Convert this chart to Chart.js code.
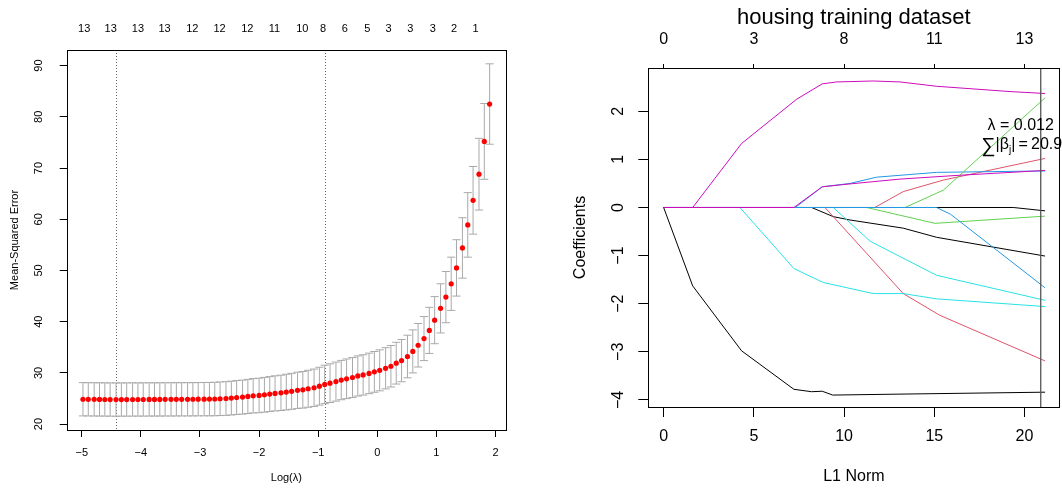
<!DOCTYPE html>
<html>
<head>
<meta charset="utf-8">
<script src="https://cdn.jsdelivr.net/npm/chart.js@4.4.1/dist/chart.umd.min.js"></script>
<style>
  html, body { margin: 0; padding: 0; background: #fff; }
  #wrap { position: relative; width: 1062px; height: 489px; }
  canvas { position: absolute; top: 0; }
</style>
</head>
<body>
<div id="wrap">
  <canvas id="cvPlot" width="531" height="489" style="left:0"></canvas>
  <canvas id="pathPlot" width="531" height="489" style="left:531px"></canvas>
</div>
<script>
// ---- left panel: cross-validation curve ----
var logLambda = [-4.98, -4.89, -4.79, -4.70, -4.61, -4.52, -4.42, -4.33, -4.24, -4.14,
  -4.05, -3.96, -3.86, -3.77, -3.68, -3.59, -3.49, -3.40, -3.31, -3.21,
  -3.12, -3.03, -2.93, -2.84, -2.75, -2.66, -2.56, -2.47, -2.38, -2.28,
  -2.19, -2.10, -2.00, -1.91, -1.82, -1.73, -1.63, -1.54, -1.45, -1.35,
  -1.26, -1.17, -1.07, -0.98, -0.89, -0.80, -0.70, -0.61, -0.52, -0.42,
  -0.33, -0.24, -0.14, -0.05, 0.04, 0.14, 0.23, 0.32, 0.41, 0.51,
  0.60, 0.69, 0.79, 0.88, 0.97, 1.07, 1.16, 1.25, 1.34, 1.44,
  1.53, 1.62, 1.72, 1.81, 1.90];
var cvMean = [24.85, 24.84, 24.83, 24.82, 24.81, 24.80, 24.79, 24.80, 24.80, 24.81,
  24.81, 24.81, 24.82, 24.82, 24.82, 24.83, 24.83, 24.84, 24.84, 24.84,
  24.85, 24.86, 24.87, 24.88, 24.90, 24.95, 25.00, 25.08, 25.20, 25.27,
  25.40, 25.53, 25.60, 25.73, 25.86, 26.00, 26.10, 26.25, 26.40, 26.60,
  26.70, 26.90, 27.10, 27.40, 27.75, 28.00, 28.30, 28.60, 28.85, 29.10,
  29.40, 29.60, 29.90, 30.20, 30.50, 30.90, 31.30, 31.90, 32.40, 33.20,
  34.20, 35.40, 36.70, 38.30, 40.30, 42.60, 44.80, 47.40, 50.50, 54.40,
  58.90, 63.70, 68.80, 75.20, 82.50];
var cvSe = [3.25, 3.25, 3.25, 3.25, 3.25, 3.25, 3.25, 3.25, 3.25, 3.25,
  3.25, 3.25, 3.25, 3.25, 3.25, 3.25, 3.25, 3.25, 3.25, 3.25,
  3.25, 3.25, 3.25, 3.26, 3.27, 3.28, 3.29, 3.30, 3.31, 3.32,
  3.33, 3.35, 3.37, 3.39, 3.41, 3.43, 3.45, 3.48, 3.51, 3.54,
  3.57, 3.61, 3.65, 3.70, 3.75, 3.78, 3.81, 3.84, 3.87, 3.90,
  3.92, 3.94, 3.96, 3.98, 4.00, 4.02, 4.05, 4.08, 4.12, 4.16,
  4.20, 4.25, 4.30, 4.50, 4.60, 4.80, 5.00, 5.20, 5.50, 5.90,
  6.30, 6.60, 7.00, 7.40, 7.85];
var nzPos = [-4.96, -4.51, -4.05, -3.60, -3.13, -2.67, -2.20, -1.74, -1.27, -0.92,
  -0.55, -0.17, 0.19, 0.56, 0.94, 1.30, 1.66];
var nzLabels = ['13', '13', '13', '13', '12', '12', '12', '11', '10', '8',
  '6', '5', '3', '3', '3', '2', '1'];
var lambdaLines = [-4.42, -0.89];   // lambda.min, lambda.1se
var cvXTicks = [-5, -4, -3, -2, -1, 0, 1, 2];
var cvYTicks = [20, 30, 40, 50, 60, 70, 80, 90];

// ---- right panel: coefficient paths, [L1 norm, coefficient] ----
var crim = [[0, 0], [8.2, 0], [9.4, -0.19], [10.33, -0.26], [13.28, -0.43], [15.13, -0.62], [21.14, -1.01]];
var zn = [[0, 0], [11.7, 0], [13.28, 0.33], [15.5, 0.57], [21.14, 1.02]];
var indus = [[0, 0], [11.25, 0], [15.04, -0.33], [21.14, -0.18]];
var chas = [[0, 0], [7.3, 0], [8.79, 0.43], [10.33, 0.5], [11.8, 0.63], [15.13, 0.73], [21.14, 0.76]];
var nox = [[0, 0], [9.4, 0], [11.44, -0.7], [13.1, -1.02], [15.13, -1.41], [21.14, -1.93]];
var rm = [[0, 0], [1.61, 0], [4.32, 1.33], [7.37, 2.25], [8.79, 2.57], [9.59, 2.61], [11.62, 2.63], [13.1, 2.61], [15.13, 2.52], [19.2, 2.41], [21.14, 2.37]];
var age = [[0, 0], [19.38, 0], [21.14, -0.07]];
var dis = [[0, 0], [8.94, 0], [13.28, -1.79], [15.3, -2.24], [21.14, -3.19]];
var rad = [[0, 0], [13.38, 0], [15.5, 0.36], [21.14, 2.28]];
var tax = [[0, 0], [15.13, 0], [15.9, -0.14], [21.14, -1.67]];
var ptratio = [[0, 0], [4.23, 0], [7.22, -1.27], [8.85, -1.56], [11.62, -1.79], [13.28, -1.79], [15.13, -1.9], [21.14, -2.06]];
var blk = [[0, 0], [7.22, 0], [8.79, 0.43], [10.33, 0.49], [13.1, 0.59], [16.4, 0.67], [21.14, 0.77]];
var lstat = [[0, 0], [1.61, -1.63], [4.32, -2.98], [7.22, -3.78], [8.2, -3.83], [8.79, -3.82], [9.37, -3.9], [13.1, -3.88], [21.14, -3.84]];
var pathNames = ['crim', 'zn', 'indus', 'chas', 'nox', 'rm', 'age', 'dis', 'rad', 'tax', 'ptratio', 'black', 'lstat'];
var pathData = [crim, zn, indus, chas, nox, rm, age, dis, rad, tax, ptratio, blk, lstat];
var l1Ticks = [0, 5, 10, 15, 20];
var dfLabels = ['0', '3', '8', '11', '13'];
var coefTicks = [-4, -3, -2, -1, 0, 1, 2];
var sNorm = 20.9;
var lambdaText = '\u03bb = 0.012';
var normText = '20.9';

var palette = ['#000000', '#DF536B', '#61D04F', '#2297E6', '#28E2E5', '#CD0BBC'];
var FONT = "'Liberation Sans', Arial, Helvetica, sans-serif";
Chart.defaults.font.family = FONT;
Chart.defaults.color = '#000';

function minus(v) { return String(v).replace('-', '\u2212'); }

// box round the plot region plus rotated y labels (R style)
var rBox = {
  id: 'rBox',
  afterDraw: function (chart, args, opts) {
    var ctx = chart.ctx, a = chart.chartArea, y = chart.scales.y;
    ctx.save();
    ctx.strokeStyle = '#000';
    ctx.lineWidth = 1;
    ctx.strokeRect(Math.round(a.left) + 0.5, Math.round(a.top) + 0.5,
      Math.round(a.right - a.left), Math.round(a.bottom - a.top));
    ctx.fillStyle = '#000';
    ctx.font = opts.fontSize + 'px ' + FONT;
    ctx.textAlign = 'center';
    ctx.textBaseline = 'middle';
    y.ticks.forEach(function (t) {
      ctx.save();
      ctx.translate(a.left - opts.labelOffset, y.getPixelForValue(t.value));
      ctx.rotate(-Math.PI / 2);
      ctx.fillText(minus(t.value), 0, 0);
      ctx.restore();
    });
    ctx.restore();
  }
};

var cvExtras = {
  id: 'cvExtras',
  beforeDatasetsDraw: function (chart) {
    var ctx = chart.ctx, x = chart.scales.x, y = chart.scales.y, a = chart.chartArea;
    ctx.save();
    // dotted lines at the two chosen lambdas
    ctx.strokeStyle = '#666';
    ctx.lineWidth = 1;
    ctx.setLineDash([1, 2]);
    lambdaLines.forEach(function (v) {
      var px = Math.round(x.getPixelForValue(v)) + 0.5;
      ctx.beginPath();
      ctx.moveTo(px, a.top);
      ctx.lineTo(px, a.bottom);
      ctx.stroke();
    });
    ctx.setLineDash([]);
    // error bars
    ctx.strokeStyle = '#a9a9a9';
    logLambda.forEach(function (lx, i) {
      var px = x.getPixelForValue(lx);
      var cw = x.getPixelForValue(lx + 0.069) - px;
      var up = y.getPixelForValue(cvMean[i] + cvSe[i]);
      var lo = y.getPixelForValue(cvMean[i] - cvSe[i]);
      ctx.beginPath();
      ctx.moveTo(px, up); ctx.lineTo(px, lo);
      ctx.moveTo(px - cw, up); ctx.lineTo(px + cw, up);
      ctx.moveTo(px - cw, lo); ctx.lineTo(px + cw, lo);
      ctx.stroke();
    });
    ctx.restore();
  }
};

var pathExtras = {
  id: 'pathExtras',
  afterDatasetsDraw: function (chart) {
    var ctx = chart.ctx, x = chart.scales.x, a = chart.chartArea;
    var px = x.getPixelForValue(sNorm);
    ctx.save();
    ctx.strokeStyle = '#555';
    ctx.lineWidth = 1.3;
    ctx.beginPath();
    ctx.moveTo(px, a.top);
    ctx.lineTo(px, a.bottom);
    ctx.stroke();
    // annotation
    var cx = px - 20;
    ctx.fillStyle = '#000';
    ctx.textBaseline = 'middle';
    ctx.textAlign = 'center';
    ctx.font = '16px ' + FONT;
    ctx.fillText(lambdaText, cx, a.top + 58);
    var parts = [
      { t: '\u2211', f: '20px ' + FONT, dy: 1 },
      { t: '|\u03b2', f: '16px ' + FONT, dy: 0 },
      { t: 'j', f: '10px ' + FONT, dy: 5 },
      { t: '|\u2009=\u2009' + normText, f: '16px ' + FONT, dy: 0 }
    ];
    var total = 0;
    parts.forEach(function (p) { ctx.font = p.f; p.w = ctx.measureText(p.t).width; total += p.w; });
    var xx = cx - total / 2 + 1;
    ctx.textAlign = 'left';
    parts.forEach(function (p) {
      ctx.font = p.f;
      ctx.fillText(p.t, xx, a.top + 77 + p.dy);
      xx += p.w;
    });
    ctx.restore();
  }
};

// ---------- left chart ----------
new Chart(document.getElementById('cvPlot'), {
  type: 'scatter',
  data: {
    datasets: [{
      label: 'Mean-Squared Error',
      data: logLambda.map(function (v, i) { return { x: v, y: cvMean[i] }; }),
      backgroundColor: '#ff0000',
      borderWidth: 0,
      pointRadius: 2.6,
      pointHoverRadius: 2.6
    }]
  },
  options: {
    responsive: false,
    animation: false,
    events: [],
    layout: { padding: { left: 0, right: 25, top: 0, bottom: 0 } },
    plugins: {
      legend: { display: false },
      tooltip: { enabled: false },
      rBox: { fontSize: 11, labelOffset: 28 }
    },
    scales: {
      x: {
        type: 'linear', position: 'bottom', min: -5.255, max: 2.177,
        afterBuildTicks: function (s) { s.ticks = cvXTicks.map(function (v) { return { value: v }; }); },
        afterFit: function (s) { s.height = 59; },
        grid: { drawOnChartArea: false, drawTicks: true, tickLength: 7, color: '#000' },
        border: { display: false },
        ticks: { font: { size: 11 }, color: '#000', padding: 9.4, maxRotation: 0, autoSkip: false, callback: minus },
        title: { display: true, text: 'Log(\u03bb)', font: { size: 11 }, color: '#000', padding: { top: 0, bottom: 4.4 } }
      },
      xTop: {
        type: 'linear', position: 'top', min: -5.255, max: 2.177,
        afterBuildTicks: function (s) { s.ticks = nzPos.map(function (v) { return { value: v }; }); },
        afterFit: function (s) { s.height = 50; },
        grid: { display: false, drawTicks: false },
        border: { display: false },
        ticks: { font: { size: 11 }, color: '#000', padding: 14.8, maxRotation: 0, autoSkip: false,
          callback: function (v, i) { return nzLabels[i]; } }
      },
      y: {
        type: 'linear', min: 18.85, max: 93.05,
        afterBuildTicks: function (s) { s.ticks = cvYTicks.map(function (v) { return { value: v }; }); },
        afterFit: function (s) { s.width = 66.7; },
        grid: { drawOnChartArea: false, drawTicks: true, tickLength: 7, color: '#000' },
        border: { display: false },
        ticks: { display: false },
        title: { display: true, text: 'Mean-Squared Error', font: { size: 11 }, color: '#000', padding: { top: 8.4, bottom: 0 } }
      }
    }
  },
  plugins: [cvExtras, rBox]
});

// ---------- right chart ----------
// Chart.js puts the first dataset on top; R puts the last variable on top,
// so the datasets are handed over last variable first.
var pathDatasets = pathData.map(function (d, i) {
  return {
    label: pathNames[i],
    data: d,
    showLine: true,
    borderColor: palette[i % 6],
    borderWidth: 1,
    pointRadius: 0,
    tension: 0,
    fill: false
  };
}).reverse();

new Chart(document.getElementById('pathPlot'), {
  type: 'scatter',
  data: { datasets: pathDatasets },
  options: {
    responsive: false,
    animation: false,
    events: [],
    layout: { padding: { left: 0, right: 2.5, top: 0, bottom: 0 } },
    plugins: {
      legend: { display: false },
      tooltip: { enabled: false },
      title: { display: true, text: 'housing training dataset', fullSize: false, color: '#000',
        font: { size: 22, weight: 'normal' }, padding: { top: 5, bottom: 0 } },
      rBox: { fontSize: 16, labelOffset: 30 }
    },
    scales: {
      x: {
        type: 'linear', position: 'bottom', min: -0.85, max: 21.94,
        afterBuildTicks: function (s) { s.ticks = l1Ticks.map(function (v) { return { value: v }; }); },
        afterFit: function (s) { s.height = 82; },
        grid: { drawOnChartArea: false, drawTicks: true, tickLength: 10, color: '#000' },
        border: { display: false },
        ticks: { font: { size: 16 }, color: '#000', padding: 10.4, maxRotation: 0, autoSkip: false },
        title: { display: true, text: 'L1 Norm', font: { size: 16 }, color: '#000', padding: { top: 0, bottom: 2.7 } }
      },
      xTop: {
        type: 'linear', position: 'top', min: -0.85, max: 21.94,
        afterBuildTicks: function (s) { s.ticks = l1Ticks.map(function (v) { return { value: v }; }); },
        afterFit: function (s) { s.height = 36.6; },
        grid: { drawOnChartArea: false, drawTicks: true, tickLength: 4, color: '#000' },
        border: { display: false },
        ticks: { font: { size: 16 }, color: '#000', padding: 15.1, maxRotation: 0, autoSkip: false,
          callback: function (v, i) { return dfLabels[i]; } }
      },
      y: {
        type: 'linear', min: -4.148, max: 2.900,
        afterBuildTicks: function (s) { s.ticks = coefTicks.map(function (v) { return { value: v }; }); },
        afterFit: function (s) { s.width = 117.3; },
        grid: { drawOnChartArea: false, drawTicks: true, tickLength: 10, color: '#000' },
        border: { display: false },
        ticks: { display: false },
        title: { display: true, text: 'Coefficients', font: { size: 16 }, color: '#000', padding: { top: 40.4, bottom: 0 } }
      }
    }
  },
  plugins: [pathExtras, rBox]
});
</script>
</body>
</html>
